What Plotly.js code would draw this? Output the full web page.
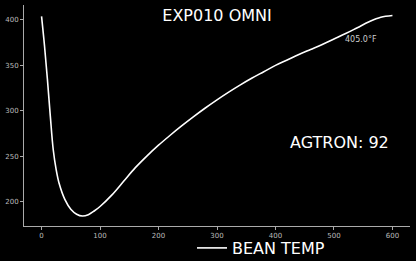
<!DOCTYPE html>
<html>
<head>
<meta charset="utf-8">
<script src="https://cdn.plot.ly/plotly-3.0.1.min.js"></script>
<style>
  html, body { margin: 0; padding: 0; background: #000; }
  #chart { width: 416px; height: 261px; }
</style>
</head>
<body>
<div id="chart"></div>
<script>
// Roast time (seconds) and bean temperature (°F)
const timeSec = [0, 5, 10, 15, 20, 25, 30, 40, 50, 60, 70, 80, 90, 100, 120, 140, 160, 180, 200, 220, 240, 260, 280, 300, 320, 340, 360, 380, 400, 420, 440, 460, 480, 500, 520, 540, 560, 580, 600];
const beanTemp = [404, 372, 335, 294, 257, 235, 220, 202, 191.5, 186, 184, 185.5, 189.5, 194.5, 207, 222, 237, 250, 262, 273, 283.5, 293.5, 303, 312, 320.5, 328.5, 336, 343, 350, 356, 362, 367.5, 373, 379, 385, 391.5, 398, 403, 405];
const seriesName = 'BEAN TEMP';
const chartTitle = 'EXP010 OMNI';
const agtronLabel = 'AGTRON: 92';
const finalTempLabel = '405.0°F';
const xTicks = [0, 100, 200, 300, 400, 500, 600];
const yTicks = [200, 250, 300, 350, 400];

const comic = '"Humor Sans", "Comic Sans MS", "DejaVu Sans", sans-serif';

const trace = {
  x: timeSec,
  y: beanTemp,
  type: 'scatter',
  mode: 'lines',
  name: seriesName,
  line: { color: '#ffffff', width: 1.6, shape: 'spline', smoothing: 1 },
  hoverinfo: 'skip'
};

const layout = {
  width: 416,
  height: 261,
  paper_bgcolor: '#000000',
  plot_bgcolor: '#000000',
  margin: { l: 24, r: 6, t: 5, b: 35, autoexpand: false },
  font: { family: 'DejaVu Sans, sans-serif', color: '#bbbbbb', size: 7 },
  title: {
    text: chartTitle,
    font: { family: comic, size: 16, color: '#ffffff' },
    x: 0.5, xanchor: 'center', xref: 'paper',
    y: 1 - 15 / 261, yanchor: 'middle', yref: 'container'
  },
  xaxis: {
    range: [-30, 630],
    tickvals: xTicks,
    ticktext: xTicks.map(String),
    showgrid: false, zeroline: false,
    showline: true, linecolor: '#aaaaaa', linewidth: 1,
    ticks: 'outside', ticklen: 3, tickcolor: '#aaaaaa', tickwidth: 1,
    tickfont: { size: 7, color: '#bbbbbb' },
    automargin: false,
    fixedrange: true
  },
  yaxis: {
    range: [173, 416.5],
    tickvals: yTicks,
    ticktext: yTicks.map(String),
    showgrid: false, zeroline: false,
    showline: true, linecolor: '#aaaaaa', linewidth: 1,
    ticks: 'outside', ticklen: 3, tickcolor: '#aaaaaa', tickwidth: 1,
    tickfont: { size: 7, color: '#bbbbbb' },
    automargin: false,
    fixedrange: true
  },
  showlegend: true,
  legend: {
    orientation: 'h',
    x: (192 - 24) / 386, xanchor: 'left',
    y: -(248 - 226) / 221, yanchor: 'middle',
    bgcolor: 'rgba(0,0,0,0)',
    font: { family: comic, size: 16, color: '#ffffff' },
    itemwidth: 30
  },
  annotations: [
    {
      x: 547, y: 378, xref: 'x', yref: 'y',
      text: finalTempLabel, showarrow: false,
      font: { size: 8, color: '#cccccc', family: 'DejaVu Sans, sans-serif' },
      xanchor: 'center', yanchor: 'middle'
    },
    {
      x: 510, y: 265, xref: 'x', yref: 'y',
      text: agtronLabel, showarrow: false,
      font: { family: comic, size: 16, color: '#ffffff' },
      xanchor: 'center', yanchor: 'middle'
    }
  ]
};

Plotly.newPlot('chart', [trace], layout, { displayModeBar: false, staticPlot: true });
</script>
</body>
</html>
